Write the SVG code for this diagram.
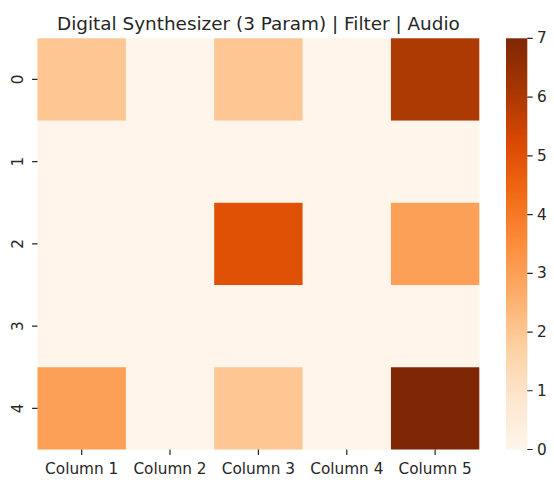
<svg xmlns="http://www.w3.org/2000/svg" width="554" height="480" viewBox="0 0 554 480">
  <style>
    text { font-family: "DejaVu Sans", "Liberation Sans", sans-serif; fill: #262626; }
    .title { font-size: 18.4px; text-anchor: middle; }
    .tick { font-size: 15.3px; }
    .xt { text-anchor: middle; }
    .yt { text-anchor: middle; dominant-baseline: central; }
    .ct { dominant-baseline: central; }
    .tk { stroke: #262626; stroke-width: 1.2; }
  </style>
  <defs>
    <linearGradient id="oranges" x1="0" y1="1" x2="0" y2="0">
      <stop offset="0" stop-color="#fff5eb"/>
      <stop offset="0.125" stop-color="#fee6ce"/>
      <stop offset="0.25" stop-color="#fdd0a2"/>
      <stop offset="0.375" stop-color="#fdae6b"/>
      <stop offset="0.5" stop-color="#fd8d3c"/>
      <stop offset="0.625" stop-color="#f16913"/>
      <stop offset="0.75" stop-color="#d94801"/>
      <stop offset="0.875" stop-color="#a63603"/>
      <stop offset="1" stop-color="#7f2704"/>
    </linearGradient>
  </defs>
  <rect width="554" height="480" fill="#ffffff"/>

  <text class="title" x="258.4" y="30">Digital Synthesizer (3 Param) | Filter | Audio</text>

  <!-- heatmap cells: 5 x 5, cell 88.36 x 82.24 -->
  <g id="cells">
    <rect x="37.5" y="38.3" width="441.8" height="411.2" fill="#fff5eb"/>
    <rect x="37.5" y="38.3" width="88.36" height="82.24" fill="#fdc692"/>
    <rect x="214.2" y="38.3" width="88.36" height="82.24" fill="#fdc692"/>
    <rect x="390.94" y="38.3" width="88.36" height="82.24" fill="#ad3903"/>
    <rect x="214.2" y="202.78" width="88.36" height="82.24" fill="#e05106"/>
    <rect x="390.94" y="202.78" width="88.36" height="82.24" fill="#fda057"/>
    <rect x="37.5" y="367.26" width="88.36" height="82.24" fill="#fda057"/>
    <rect x="214.2" y="367.26" width="88.36" height="82.24" fill="#fdc692"/>
    <rect x="390.94" y="367.26" width="88.36" height="82.24" fill="#7f2704"/>
  </g>

  <!-- row axis -->
  <g id="y-axis">
    <path class="tk" d="M32.1 79.4H37.5M32.1 161.7H37.5M32.1 243.9H37.5M32.1 326.1H37.5M32.1 408.4H37.5"/>
    <text class="tick yt" transform="translate(18 79.4) rotate(-90)">0</text>
    <text class="tick yt" transform="translate(18 161.7) rotate(-90)">1</text>
    <text class="tick yt" transform="translate(18 243.9) rotate(-90)">2</text>
    <text class="tick yt" transform="translate(18 326.1) rotate(-90)">3</text>
    <text class="tick yt" transform="translate(18 408.4) rotate(-90)">4</text>
  </g>

  <!-- column axis -->
  <g id="x-axis">
    <path class="tk" d="M81.7 449.5V454.9M170 449.5V454.9M258.4 449.5V454.9M346.8 449.5V454.9M435.1 449.5V454.9"/>
    <text class="tick xt" x="81.7" y="474">Column 1</text>
    <text class="tick xt" x="170" y="474">Column 2</text>
    <text class="tick xt" x="258.4" y="474">Column 3</text>
    <text class="tick xt" x="346.8" y="474">Column 4</text>
    <text class="tick xt" x="435.1" y="474">Column 5</text>
  </g>

  <!-- colour bar 0..7 -->
  <g id="colorbar">
    <rect x="506" y="38.3" width="21.3" height="411.2" fill="url(#oranges)"/>
    <path class="tk" d="M527.3 449.5h5.4M527.3 390.76h5.4M527.3 332.03h5.4M527.3 273.29h5.4M527.3 214.54h5.4M527.3 155.8h5.4M527.3 97.06h5.4M527.3 38.3h5.4"/>
    <text class="tick ct" x="537" y="449.5">0</text>
    <text class="tick ct" x="537" y="390.76">1</text>
    <text class="tick ct" x="537" y="332.03">2</text>
    <text class="tick ct" x="537" y="273.29">3</text>
    <text class="tick ct" x="537" y="214.54">4</text>
    <text class="tick ct" x="537" y="155.8">5</text>
    <text class="tick ct" x="537" y="97.06">6</text>
    <text class="tick ct" x="537" y="38.3">7</text>
  </g>
</svg>
